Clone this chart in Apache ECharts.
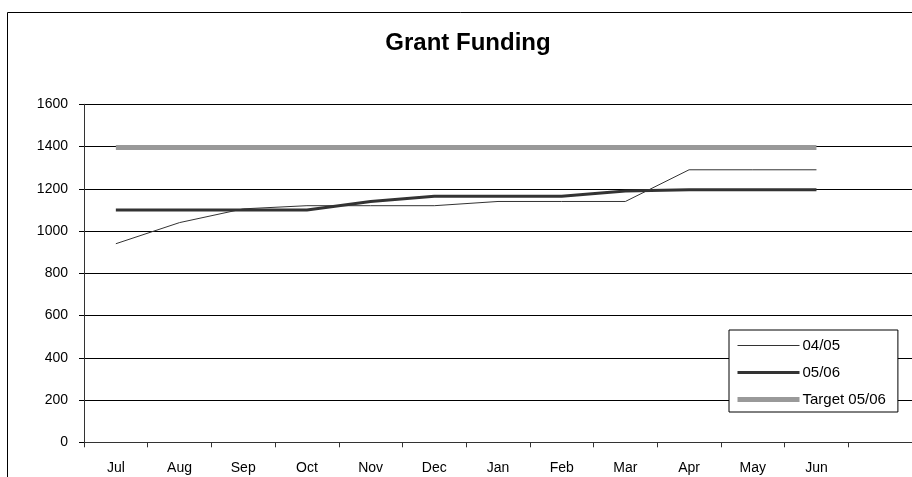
<!DOCTYPE html>
<html>
<head>
<meta charset="utf-8">
<script src="https://cdn.jsdelivr.net/npm/echarts@6/dist/echarts.min.js"></script>
<style>
html,body{margin:0;padding:0;background:#fff;}
#chart{width:912px;height:477px;}
</style>
</head>
<body>
<div id="chart"></div>
<script>
// Data
var categories = ['Jul','Aug','Sep','Oct','Nov','Dec','Jan','Feb','Mar','Apr','May','Jun',''];
var fy0405 = [940,1040,1105,1120,1120,1120,1140,1140,1140,1290,1290,1290];
var fy0506 = [1100,1100,1100,1100,1140,1165,1165,1165,1190,1195,1195,1195];
var target0506 = [1395,1395,1395,1395,1395,1395,1395,1395,1395,1395,1395,1395];
var yTicks = [0,200,400,600,800,1000,1200,1400,1600];
var seriesNames = ['04/05','05/06','Target 05/06'];

var FONT = '"Liberation Sans", Arial, sans-serif';
var lineColors = ['#333','#333','#999'];
var lineWidths = [1,3,5];
var chart = echarts.init(document.getElementById('chart'), null, {renderer:'canvas'});
chart.setOption({
  backgroundColor:'#fff',
  animation:false,
  graphic:[{
    type:'rect', left:5, top:10, silent:true,
    shape:{x:0.5,y:0.5,width:1000,height:1000},
    style:{fill:'none',stroke:'#000',lineWidth:1}
  }],
  title:{
    text:'Grant Funding',
    left:463, top:26, textAlign:'center',
    textStyle:{fontFamily:FONT,fontSize:24,fontWeight:'bold',color:'#000'}
  },
  legend:{
    orient:'vertical',
    left:729, top:330,
    data:seriesNames.map(function(n,i){
      return {name:n, lineStyle:{color:lineColors[i],width:lineWidths[i]},
              itemStyle:{opacity:0,color:'rgba(0,0,0,0)',borderWidth:0}};
    }),
    itemWidth:62, itemHeight:14, itemGap:12,
    padding:[8,12,5,6],
    backgroundColor:'#fff',
    borderColor:'#000', borderWidth:1, borderRadius:0,
    itemStyle:{opacity:0,color:'rgba(0,0,0,0)',borderWidth:0},
    textStyle:{fontFamily:FONT,fontSize:15,color:'#000',lineHeight:14,padding:[0,0,0,-2]}
  },
  grid:{left:84, top:104.3, right:-2, bottom:34.7, containLabel:false},
  xAxis:{
    type:'category',
    data:categories,
    boundaryGap:true,
    axisLine:{lineStyle:{color:'#333',width:1}},
    axisTick:{show:true,length:5,alignWithLabel:false,lineStyle:{color:'#333'}},
    axisLabel:{fontFamily:FONT,fontSize:14,color:'#000',margin:19,interval:0},
    splitLine:{show:false}
  },
  yAxis:{
    type:'value',
    min:yTicks[0], max:yTicks[yTicks.length-1], interval:200,
    axisLine:{show:true,lineStyle:{color:'#333',width:1}},
    axisTick:{show:true,length:5,lineStyle:{color:'#000'}},
    axisLabel:{fontFamily:FONT,fontSize:14,color:'#000',margin:16,
      formatter:function(v){return String(v);}},
    splitLine:{show:true,lineStyle:{color:'#000',width:1}}
  },
  series:[
    {name:seriesNames[0],type:'line',data:fy0405,symbol:'none',showSymbol:false,
     lineStyle:{color:lineColors[0],width:lineWidths[0]},itemStyle:{color:lineColors[0]},z:3},
    {name:seriesNames[1],type:'line',data:fy0506,symbol:'none',showSymbol:false,
     lineStyle:{color:lineColors[1],width:lineWidths[1]},itemStyle:{color:lineColors[1]},z:4},
    {name:seriesNames[2],type:'line',data:target0506,symbol:'none',showSymbol:false,
     lineStyle:{color:lineColors[2],width:lineWidths[2]},itemStyle:{color:lineColors[2]},z:5}
  ]
});
</script>
</body>
</html>
